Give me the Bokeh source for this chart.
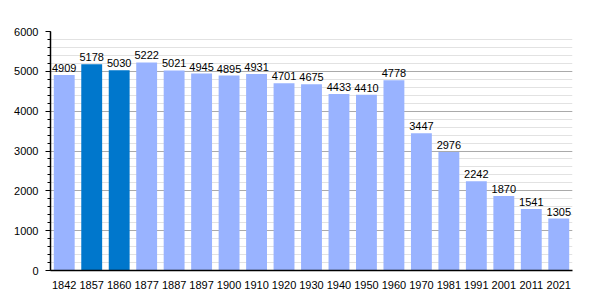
from bokeh.plotting import figure
from bokeh.models import ColumnDataSource, FactorRange, Range1d, SingleIntervalTicker
from bokeh.core.properties import value
from bokeh.embed import file_html
from bokeh.resources import INLINE

years = ["1842", "1857", "1860", "1877", "1887", "1897", "1900", "1910", "1920", "1930",
         "1940", "1950", "1960", "1970", "1981", "1991", "2001", "2011", "2021"]
population = [4909, 5178, 5030, 5222, 5021, 4945, 4895, 4931, 4701, 4675,
              4433, 4410, 4778, 3447, 2976, 2242, 1870, 1541, 1305]
highlight = ["1857", "1860"]

LIGHT = "#99b3ff"
DARK = "#0077cc"
colors = [DARK if y in highlight else LIGHT for y in years]
labels = [str(v) for v in population]

src = ColumnDataSource(dict(x=years, y=population, c=colors, t=labels))

p = figure(width=600, height=300, x_range=FactorRange(*years, range_padding=0),
           y_range=Range1d(0, 6000), output_backend="svg", toolbar_location=None,
           min_border_left=50, min_border_right=28, min_border_top=31, min_border_bottom=30)
p.outline_line_color = None
p.background_fill_color = "white"
p.border_fill_color = "white"

p.vbar(x="x", top="y", width=0.76, fill_color="c", line_color=None, source=src)
p.text(x="x", y="y", text="t", source=src, text_align="center", text_baseline="bottom",
       y_offset=-3, text_font=value("Liberation Sans"), text_font_size="11px", text_color="black")

ticker = SingleIntervalTicker(interval=1000, num_minor_ticks=5)
p.yaxis.ticker = ticker
p.ygrid.ticker = ticker
p.ygrid.grid_line_color = "#aaaaaa"
p.ygrid.minor_grid_line_color = "#e2e2e2"
p.xgrid.grid_line_color = None
p.ygrid.level = "underlay"

for ax in (p.xaxis[0], p.yaxis[0]):
    ax.axis_line_color = "black"
    ax.axis_line_width = 1.5
    ax.major_label_text_font = "Liberation Sans"
    ax.major_label_text_font_size = "11px"
    ax.major_label_text_color = "black"

p.yaxis.major_tick_line_color = "black"
p.yaxis.major_tick_in = 0
p.yaxis.major_tick_out = 5
p.yaxis.minor_tick_line_color = "black"
p.yaxis.minor_tick_in = 0
p.yaxis.minor_tick_out = 3
p.yaxis.major_label_standoff = 7
p.xaxis.major_tick_line_color = None
p.xaxis.minor_tick_line_color = None
p.xaxis.major_label_standoff = 4
p.xaxis.group_text_font_size = "0px"

open("out.html", "w").write(file_html(p, INLINE))
